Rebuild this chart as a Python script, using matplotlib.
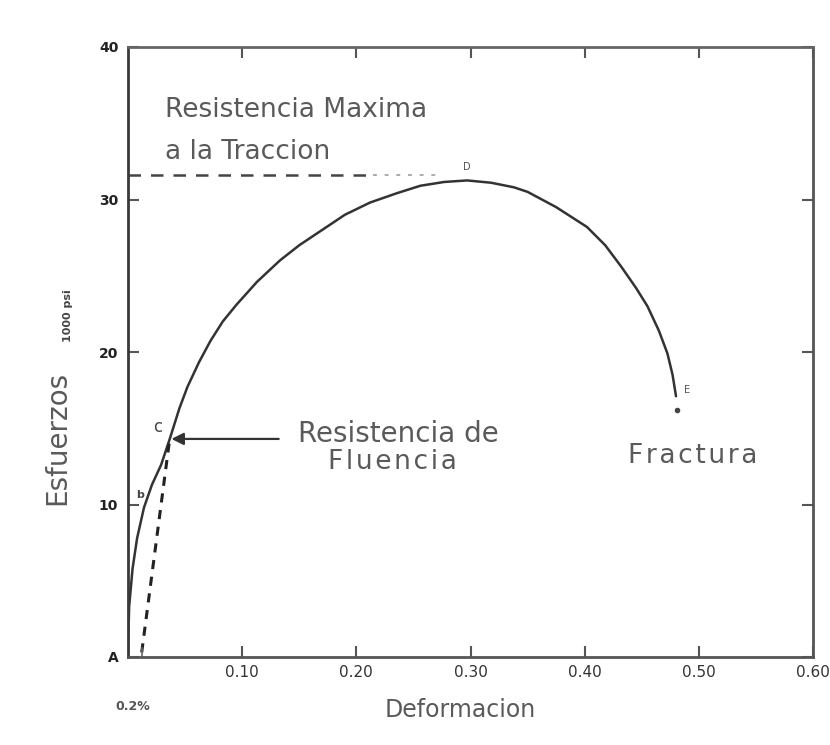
import matplotlib
matplotlib.use("Agg")
import matplotlib.pyplot as plt

# ---- data ----
strain = [0.000, 0.001, 0.004, 0.008, 0.014, 0.021, 0.029, 0.037, 0.045, 0.052,
          0.062, 0.072, 0.083, 0.095, 0.113, 0.133, 0.150, 0.168, 0.190, 0.212,
          0.235, 0.256, 0.277, 0.297, 0.318, 0.338, 0.350, 0.375, 0.402, 0.418,
          0.432, 0.445, 0.455, 0.465, 0.4725, 0.477, 0.480]
stress = [0.3, 3.3, 5.8, 7.8, 9.8, 11.3, 12.6, 14.4, 16.3, 17.7,
          19.3, 20.7, 22.0, 23.1, 24.6, 26.0, 27.0, 27.9, 29.0, 29.8,
          30.4, 30.9, 31.15, 31.25, 31.1, 30.8, 30.5, 29.5, 28.2, 27.0,
          25.6, 24.2, 23.0, 21.4, 19.9, 18.5, 17.1]

offset_strain = [0.012, 0.036]       # 0.2 % offset line
offset_stress = [0.3, 14.0]
uts_value = 31.6                      # max tensile strength line
uts_dash_end = 0.215
uts_dot_end = 0.27
yield_value = 14.3
yield_point_x = 0.038
yield_arrow_tail = 0.132
fracture_point = (0.481, 16.2)

x_ticks = [0.10, 0.20, 0.30, 0.40, 0.50, 0.60]
x_tick_labels = ["0.10", "0.20", "0.30", "0.40", "0.50", "0.60"]
y_ticks = [0, 10, 20, 30, 40]
y_tick_labels = ["A", "10", "20", "30", "40"]

plt.rcParams['font.family'] = ['DejaVu Sans']

TXT = "#5a5a5a"
LN = "#333333"
HS = "\u200a"  # hair space for the spaced-out lettering

fig = plt.figure(figsize=(8.30, 7.45), dpi=100)
ax = fig.add_axes([128/830, 1 - 657/745, (813 - 128)/830, (657 - 47)/745])
ax.set_xlim(0, 0.6)
ax.set_ylim(0, 40)

for side in ["left", "right", "top", "bottom"]:
    ax.spines[side].set_linewidth(2.0)
ax.spines["left"].set_color("#3a3a3a")
ax.spines["bottom"].set_color("#555555")
ax.spines["top"].set_color("#666666")
ax.spines["right"].set_color("#555555")

# main curve
ax.plot(strain, stress, color=LN, lw=1.8, solid_capstyle="round")
# offset dashed line
ax.plot(offset_strain, offset_stress, color="#222222", lw=2.2, ls=(0, (3, 2.5)))
# ultimate strength line
ax.plot([0, uts_dash_end], [uts_value, uts_value], color="#444444", lw=1.8, ls=(0, (5, 4)))
ax.plot([uts_dash_end, uts_dot_end], [uts_value, uts_value], color="#aaaaaa", lw=1.4, ls=(0, (2, 4)))
# fracture dot
ax.plot([fracture_point[0]], [fracture_point[1]], "o", color="#444444", ms=3)
# yield arrow
ax.annotate("", xy=(yield_point_x, yield_value), xytext=(yield_arrow_tail, yield_value),
            arrowprops=dict(arrowstyle="-|>", color="#333333", lw=1.6,
                            mutation_scale=18, shrinkA=0, shrinkB=0))

# ticks
ax.set_xticks(x_ticks)
ax.set_xticklabels(x_tick_labels)
ax.set_yticks(y_ticks)
ax.set_yticklabels(y_tick_labels)
ax.tick_params(axis="both", direction="in", length=8, width=1.5, color="#555555",
               top=True, right=True)
ax.tick_params(axis="x", labelsize=11, pad=6, labelcolor="#333333")
ax.tick_params(axis="y", labelsize=10, pad=7, labelcolor="#222222")
for t in ax.get_yticklabels():
    t.set_fontweight("bold")
# small tick for the 0.2% offset
ax.plot([offset_strain[0], offset_strain[0]], [0, 0.6], color="#666666", lw=1.2)

# curve point letters
ax.text(0.0105, 10.6, "b", fontsize=8, color="#444444", ha="center", va="center", fontweight="bold")
ax.text(0.026, 15.1, "c", fontsize=12, color="#444444", ha="center", va="center")
ax.text(0.297, 32.1, "D", fontsize=7, color="#555555", ha="center", va="center")
ax.text(0.49, 17.5, "E", fontsize=7, color="#555555", ha="center", va="center")

# annotation texts
ax.text(0.0325, 35.9, "Resistencia Maxima", fontsize=19, color=TXT, ha="left", va="center")
ax.text(0.0325, 33.1, "a la Traccion", fontsize=19, color=TXT, ha="left", va="center")
ax.text(0.149, 14.6, "Resistencia de", fontsize=20, color=TXT, ha="left", va="center")
ax.text(0.175, 12.8, HS.join("Fluencia"), fontsize=19, color=TXT, ha="left", va="center")
ax.text(0.438, 13.2, HS.join("Fractura"), fontsize=19, color=TXT, ha="left", va="center")

# axis labels (figure pixel positions)
fig.text(57/830, 1 - 438/745, "Esfuerzos", rotation=90, fontsize=20, color=TXT,
         ha="center", va="center")
fig.text(68/830, 1 - 316/745, "1000 psi", rotation=90, fontsize=8, color="#444444",
         ha="center", va="center", fontweight="bold")
fig.text(460/830, 1 - 710/745, "Deformacion", fontsize=17, color=TXT,
         ha="center", va="center")
fig.text(133/830, 1 - 706/745, "0.2%", fontsize=9, color="#555555",
         ha="center", va="center", fontweight="bold")

fig.savefig("out.png", dpi=100, facecolor="white")
